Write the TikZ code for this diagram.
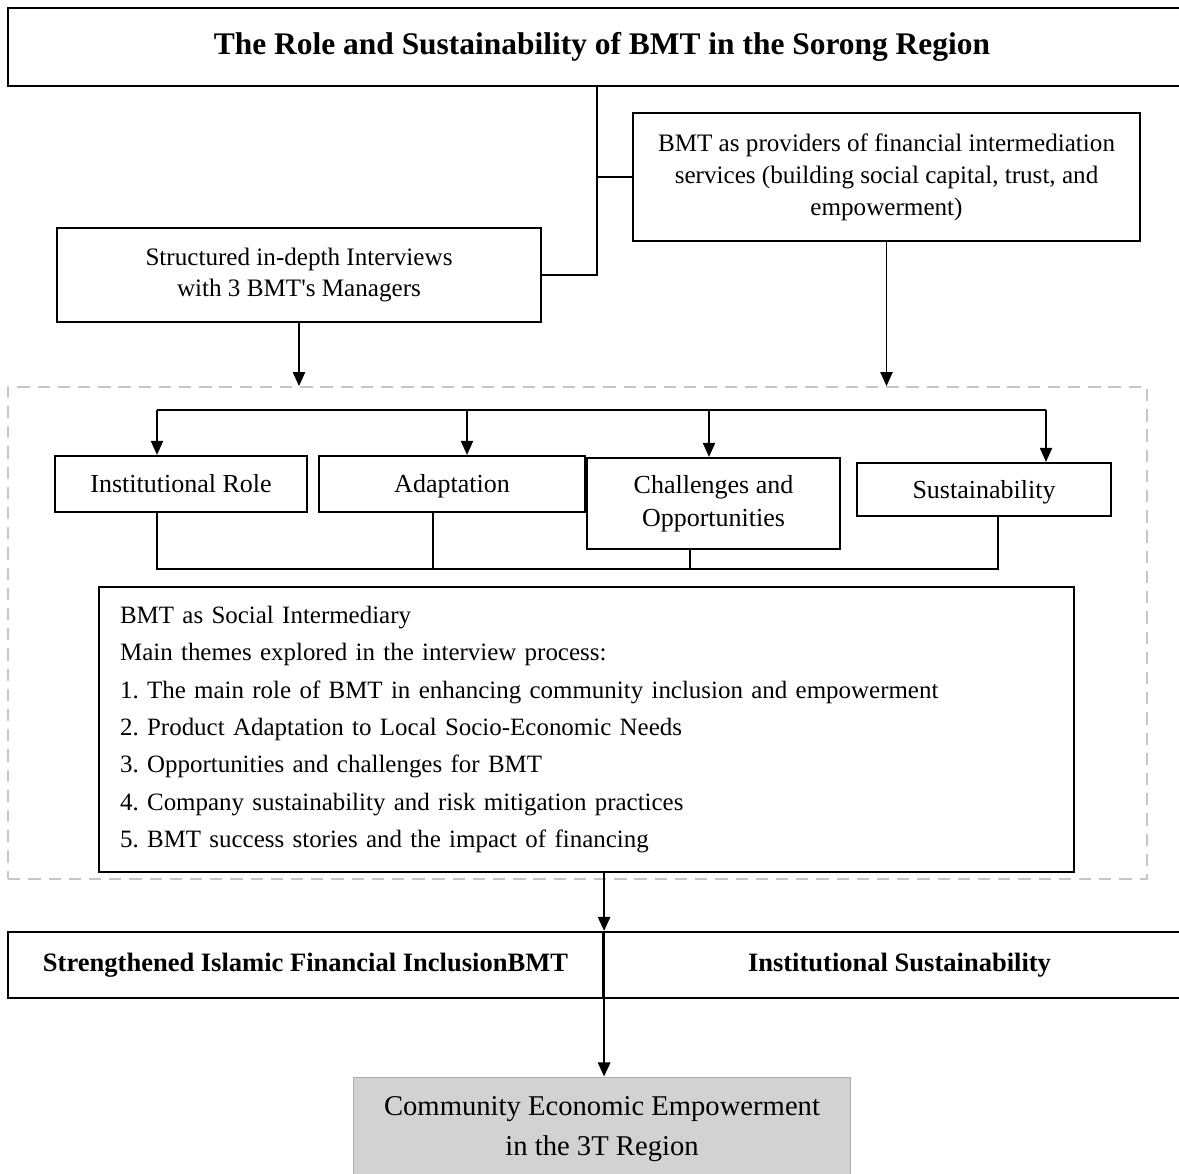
\documentclass[tikz,border=0pt]{standalone}
\usepackage{fontspec}
\setmainfont{Liberation Serif}
\usetikzlibrary{arrows.meta}
\tikzset{
  box/.style={draw, line width=1.3pt, inner sep=0pt, align=center, font=\fontsize{14.3}{18.2}\selectfont},
  theme/.style={box, font=\fontsize{14.8}{18.8}\selectfont},
  headbox/.style={box, font=\bfseries\fontsize{15.1}{18}\selectfont},
  zonebox/.style={draw=gray!45, line width=1.1pt, dash pattern=on 7pt off 4.5pt},
  goalbox/.style={draw=gray!65, fill=gray!35, line width=0.6pt, inner sep=0pt, align=center, font=\fontsize{16.3}{22.8}\selectfont},
  arr/.style={-{Triangle[width=7pt,length=8pt]}, line width=0.8pt},
  link/.style={line width=0.7pt},
}
\frenchspacing
\begin{document}
\begin{tikzpicture}[x=0.02cm,y=-0.02cm]
  \useasboundingbox (0,0) rectangle (1179,1173);
  % top of the diagram
  \node[box, minimum width=23.76cm, minimum height=1.56cm, font=\bfseries\fontsize{17.9}{21}\selectfont] at (602,47) (title) {The Role and Sustainability of BMT in the Sorong Region};
  \node[box, minimum width=10.14cm, minimum height=2.56cm] at (886.5,177) (prov) {BMT as providers of financial intermediation\\ services (building social capital, trust, and\\ empowerment)};
  \node[box, minimum width=9.68cm, minimum height=1.88cm] at (299,275) (intv) {Structured in-depth Interviews\\ with 3 BMT\textquotesingle s Managers};
  \coordinate (trunk) at (597,86);
  \path[line width=1.3pt] (trunk) edge[to path={|- (\tikztotarget)}] (intv.east);
  \path[line width=1.3pt] (trunk |- prov.west) edge (prov.west);
  % dashed frame with the themes
  \node[zonebox, minimum width=22.78cm, minimum height=9.84cm] at (577.5,633) (zone) {};
  \draw[arr] (intv.south) -- (intv.south |- zone.north);
  \draw[arr] (prov.south) -- (prov.south |- zone.north);
  \node[theme, minimum width=5.04cm, minimum height=1.12cm, text height=2.6ex, text depth=0.4ex] at (181,484) (role) {Institutional Role};
  \node[theme, minimum width=5.32cm, minimum height=1.12cm, text height=2.6ex, text depth=0.4ex] at (452,484) (adapt) {Adaptation};
  \node[theme, minimum width=5.06cm, minimum height=1.82cm] at (713.5,503.5) (chal) {Challenges and\\ Opportunities};
  \node[theme, minimum width=5.08cm, minimum height=1.06cm, text height=2.6ex, text depth=0.4ex] at (984,489.5) (sust) {Sustainability};
  \coordinate (b1) at (157,410);
  \coordinate (b2) at (467,410);
  \coordinate (b3) at (709,410);
  \coordinate (b4) at (1046,410);
  \draw[link] (b1) -- (b4);
  \draw[arr, line width=0.7pt] (b1) -- (b1 |- role.north);
  \draw[arr, line width=0.7pt] (b2) -- (b2 |- adapt.north);
  \draw[arr, line width=0.7pt] (b3) -- (b3 |- chal.north);
  \draw[arr, line width=0.7pt] (b4) -- (b4 |- sust.north);
  \coordinate (c1) at (157,569);
  \coordinate (c2) at (433,569);
  \coordinate (c3) at (690,569);
  \coordinate (c4) at (998,569);
  \draw[link] (c1 |- role.south) -- (c1) -- (c4) -- (c4 |- sust.south);
  \draw[link] (c2 |- adapt.south) -- (c2);
  \draw[link] (c3 |- chal.south) -- (c3);
  \node[box, minimum width=19.5cm, minimum height=5.7cm, text width=18.66cm, align=left, font=\fontsize{14.2}{21.3}\selectfont] at (586.5,729.5) (main) {BMT as Social Intermediary\\
    Main themes explored in the interview process:\\
    1. The main role of BMT in enhancing community inclusion and empowerment\\
    2. Product Adaptation to Local Socio-Economic Needs\\
    3. Opportunities and challenges for BMT\\
    4. Company sustainability and risk mitigation practices\\
    5. BMT success stories and the impact of financing};
  % outcomes
  \node[headbox, minimum width=11.9cm, minimum height=1.32cm] at (305.5,965) (incl) {Strengthened Islamic Financial InclusionBMT};
  \node[headbox, minimum width=11.86cm, minimum height=1.32cm] at (899.5,965) (inst) {Institutional Sustainability};
  \node[goalbox, minimum width=9.96cm, minimum height=2.08cm] at (602,1129) (comm) {Community Economic Empowerment\\ in the 3T Region};
  \draw[arr, line width=1.2pt] (incl.north east |- main.south) -- (incl.north east);
  \draw[arr, line width=1.2pt] (incl.north east) -- (incl.north east |- comm.north);
\end{tikzpicture}
\end{document}
